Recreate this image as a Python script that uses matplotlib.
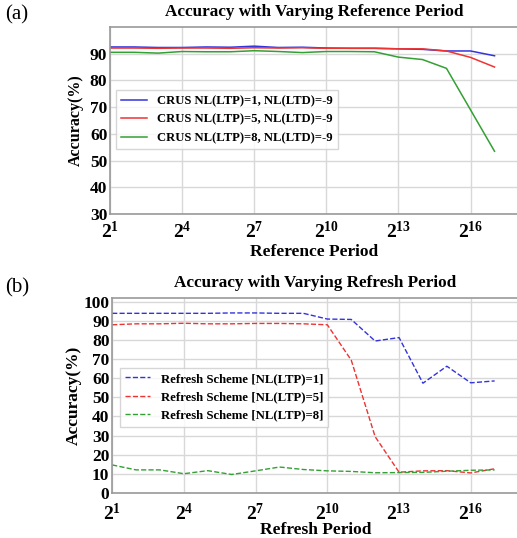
import numpy as np
import matplotlib
matplotlib.use("Agg")
import matplotlib.pyplot as plt

plt.rcParams['font.family'] = 'Liberation Serif'
plt.rcParams['mathtext.fontset'] = 'custom'
plt.rcParams['mathtext.rm'] = 'Liberation Serif:bold'
plt.rcParams['mathtext.bf'] = 'Liberation Serif:bold'
plt.rcParams['mathtext.it'] = 'Liberation Serif:bold'

# x positions: powers of two, 2^1 .. 2^17
exps = list(range(1, 18))

# (a) reference period
ref_labels = ["CRUS NL(LTP)=1, NL(LTD)=-9",
              "CRUS NL(LTP)=5, NL(LTD)=-9",
              "CRUS NL(LTP)=8, NL(LTD)=-9"]
ref_ltp1 = [92.5, 92.5, 92.3, 92.3, 92.5, 92.4, 92.8, 92.3, 92.4, 92.1, 92.0, 92.0, 91.8, 91.6, 91.0, 91.0, 89.2]
ref_ltp5 = [92.1, 92.1, 92.0, 92.1, 92.1, 92.0, 92.2, 92.1, 92.2, 92.0, 92.0, 92.0, 91.8, 91.8, 91.0, 88.6, 85.0]
ref_ltp8 = [90.5, 90.5, 90.2, 90.8, 90.7, 90.7, 91.1, 90.8, 90.4, 90.8, 90.8, 90.7, 88.7, 87.8, 84.5, 69.0, 53.5]

# (b) refresh period
rf_labels = ["Refresh Scheme [NL(LTP)=1]",
             "Refresh Scheme [NL(LTP)=5]",
             "Refresh Scheme [NL(LTP)=8]"]
rf_ltp1 = [94.0, 94.0, 94.0, 94.0, 94.0, 94.2, 94.2, 94.0, 94.0, 91.0, 90.8, 79.5, 81.3, 57.4, 66.3, 57.6, 58.6]
rf_ltp5 = [88.0, 88.5, 88.5, 88.8, 88.5, 88.5, 88.7, 88.7, 88.5, 88.0, 69.5, 29.4, 10.8, 11.5, 11.6, 10.4, 12.6]
rf_ltp8 = [14.6, 12.0, 12.0, 10.0, 11.6, 9.6, 11.5, 13.5, 12.2, 11.5, 11.2, 10.5, 10.6, 10.7, 11.3, 11.8, 12.0]

x = 2.0 ** np.array(exps)
tick_exps = [1, 4, 7, 10, 13, 16]

fig = plt.figure(figsize=(5.17, 5.38), dpi=100)

def style_axes(ax, xpad=5):
    ax.set_xscale('log', base=2)
    ax.set_xlim(2, 2 ** 18)
    ax.set_xticks([2.0 ** e for e in tick_exps])
    ax.set_xticklabels([r'$2^{%d}$' % e for e in tick_exps], fontsize=14)
    ax.minorticks_off()
    ax.grid(True, color='#d8d8d8', linewidth=1)
    ax.set_axisbelow(True)
    for s in ax.spines.values():
        s.set_color('#999999')
        s.set_linewidth(1.2)
    ax.tick_params(axis='y', length=0, pad=2)
    ax.tick_params(axis='x', length=0, pad=xpad)
    for t in ax.get_yticklabels():
        t.set_fontweight('bold')
        t.set_fontsize(12.5)

# panel a
ax1 = fig.add_axes([0.213, 0.602, 0.79, 0.348])
ax1.plot(x, ref_ltp1, color='#3333dd', lw=1.1, label=ref_labels[0])
ax1.plot(x, ref_ltp5, color='#ee3333', lw=1.1, label=ref_labels[1])
ax1.plot(x, ref_ltp8, color='#33a033', lw=1.1, label=ref_labels[2])
ax1.set_ylim(30, 100)
ax1.set_yticks(range(30, 100, 10))
style_axes(ax1)
ax1.set_title("Accuracy with Varying Reference Period", fontsize=12.3, fontweight='bold', pad=8)
ax1.set_xlabel("Reference Period", fontsize=12.5, fontweight='bold', labelpad=1)
ax1.set_ylabel("Accuracy(%)", fontsize=11.5, fontweight='bold', labelpad=4)
ax1.legend(loc='upper left', bbox_to_anchor=(0.0, 0.695),
           prop={'weight': 'bold', 'size': 9.1}, frameon=True,
           fancybox=False, edgecolor='#cccccc', handlelength=2.0)

# panel b
ax2 = fig.add_axes([0.217, 0.084, 0.786, 0.362])
ax2.plot(x, rf_ltp1, color='#3333dd', lw=1.0, ls='--', label=rf_labels[0])
ax2.plot(x, rf_ltp5, color='#ee3333', lw=1.0, ls='--', label=rf_labels[1])
ax2.plot(x, rf_ltp8, color='#33a033', lw=1.0, ls='--', label=rf_labels[2])
ax2.set_ylim(0, 102)
ax2.set_yticks(range(0, 101, 10))
style_axes(ax2, xpad=7)
ax2.set_title("Accuracy with Varying Refresh Period", fontsize=12.3, fontweight='bold', pad=8)
ax2.set_xlabel("Refresh Period", fontsize=12.5, fontweight='bold', labelpad=-1)
ax2.set_ylabel("Accuracy(%)", fontsize=12.5, fontweight='bold', labelpad=1)
ax2.legend(loc='upper left', bbox_to_anchor=(0.003, 0.675),
           prop={'weight': 'bold', 'size': 9.2}, frameon=True,
           fancybox=False, edgecolor='#cccccc', handlelength=2.0)

fig.text(0.01, 0.972, "(a)", fontsize=15, va='center')
fig.text(0.01, 0.465, "(b)", fontsize=15, va='center')

fig.savefig("out.png", dpi=100)
